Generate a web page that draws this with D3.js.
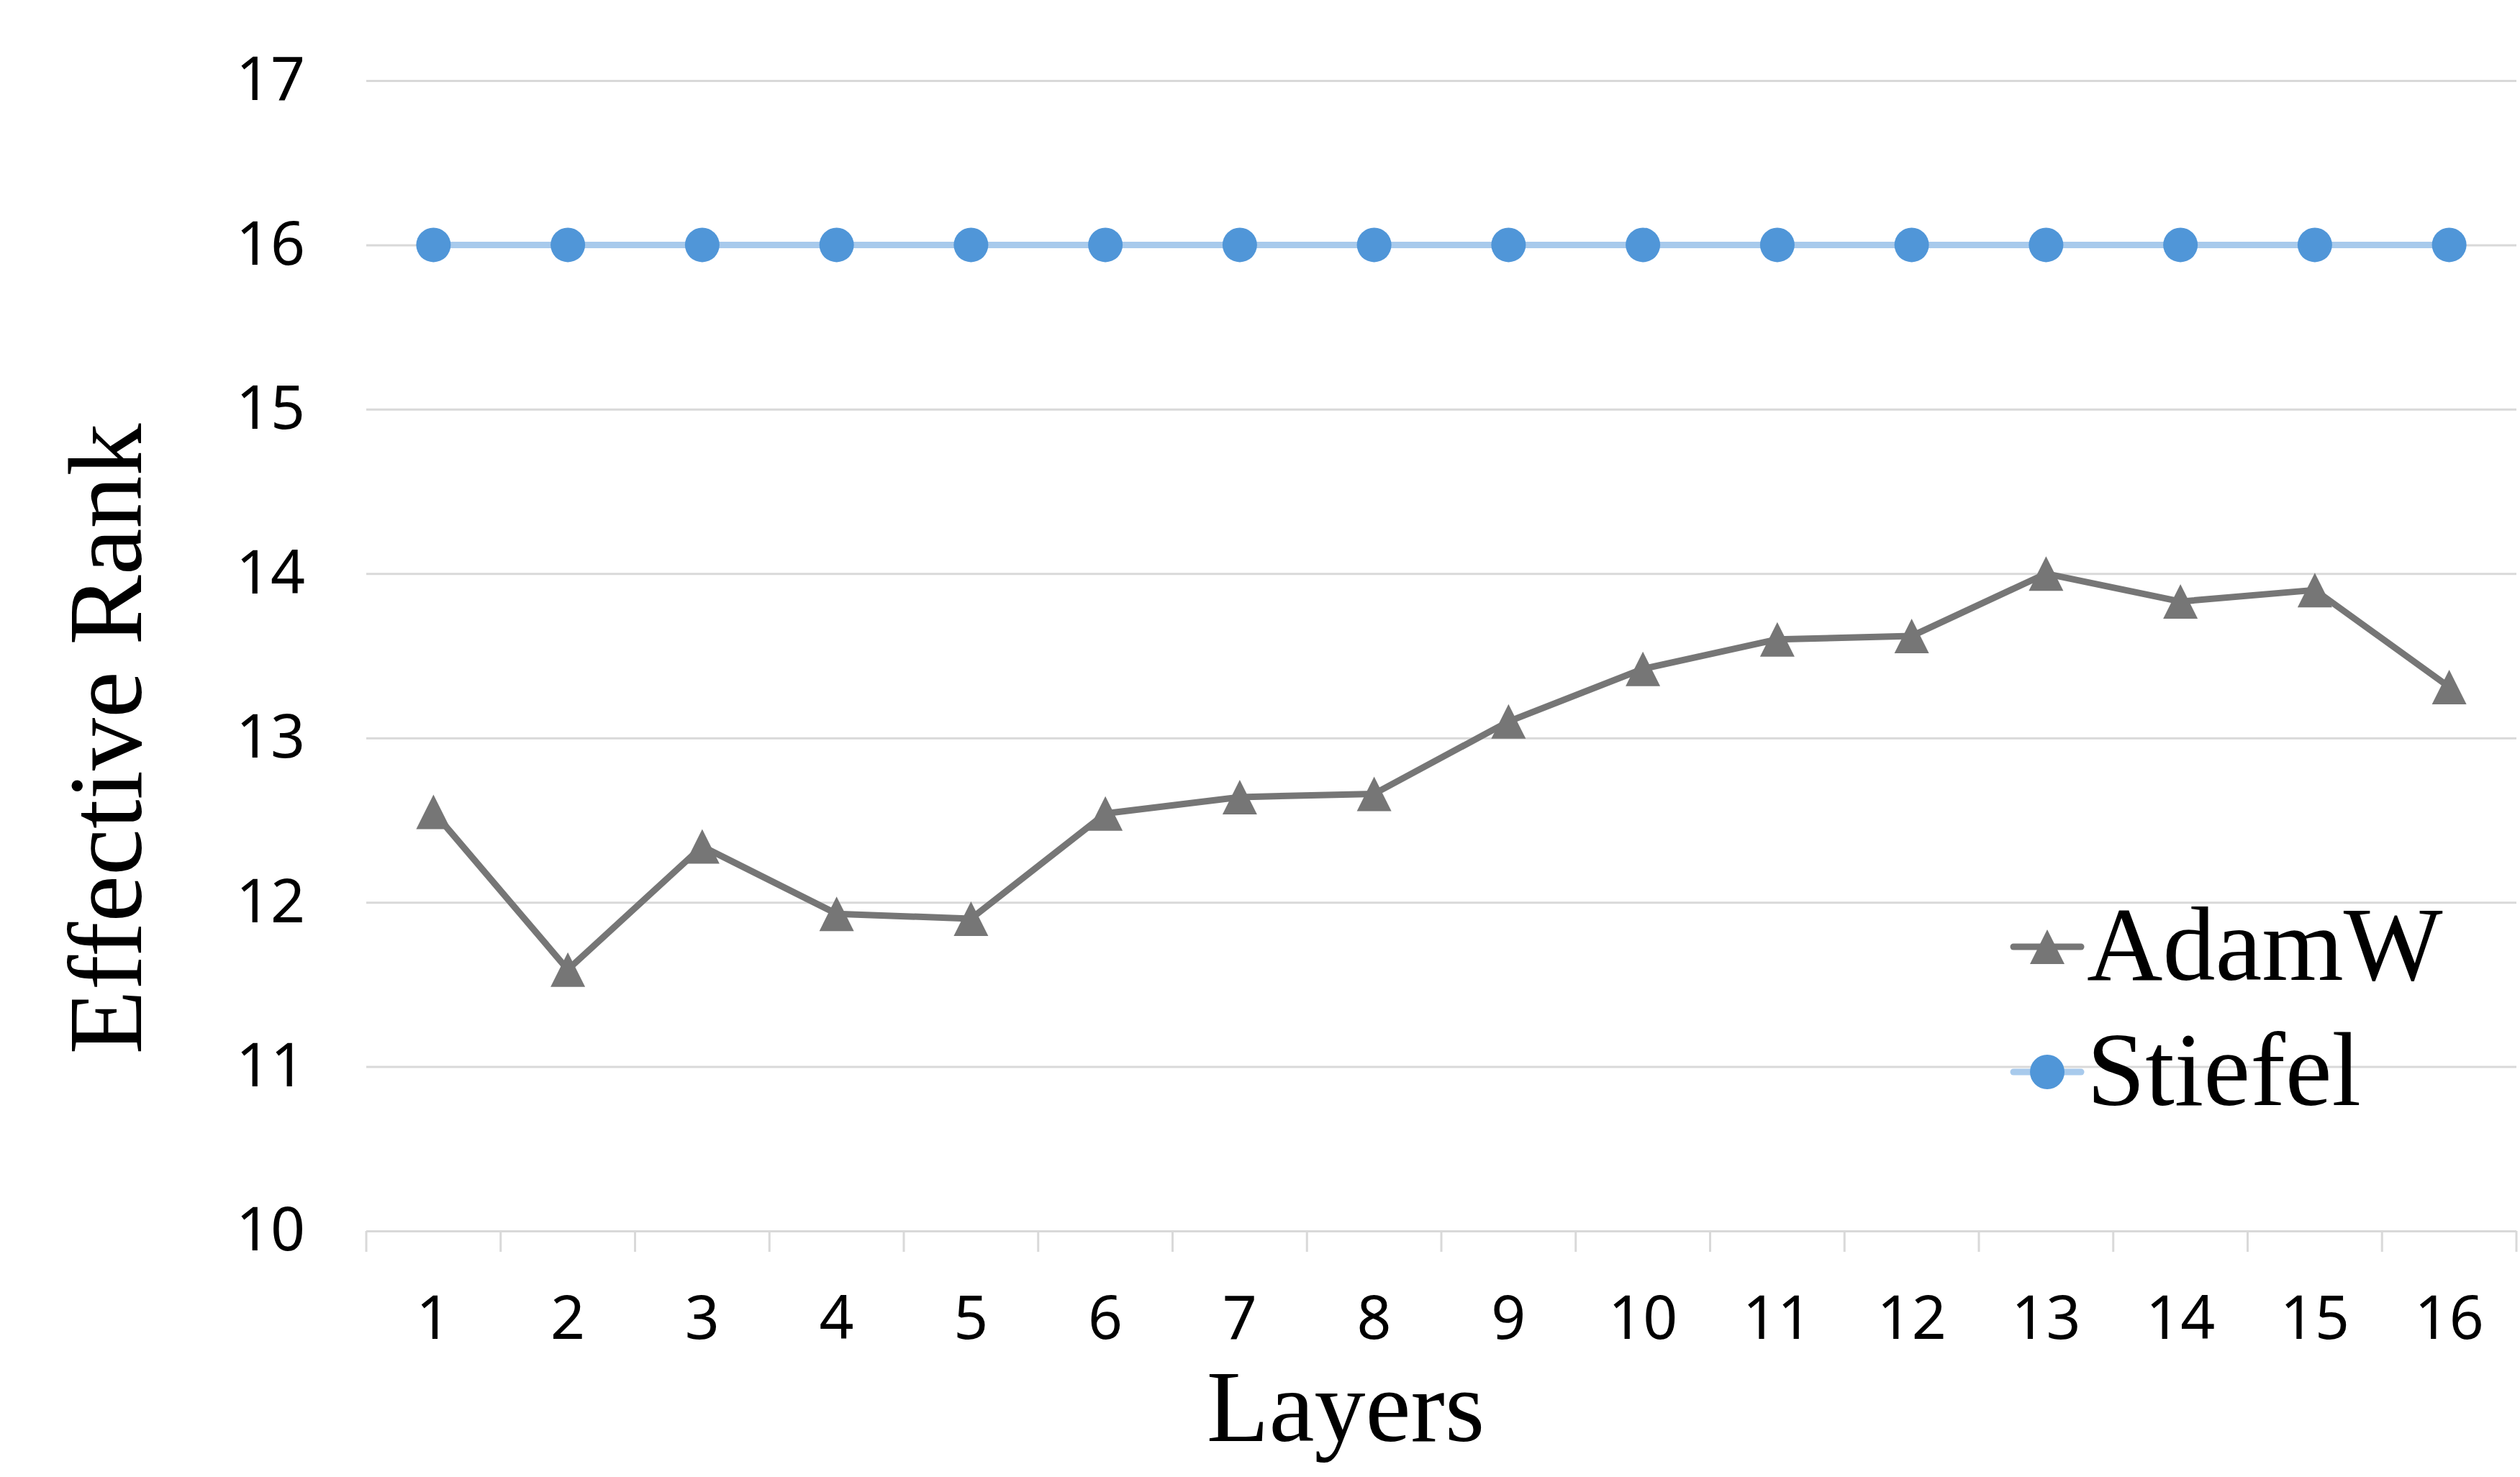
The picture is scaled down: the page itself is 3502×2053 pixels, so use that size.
<!DOCTYPE html>
<html>
<head>
<meta charset="utf-8">
<script src="https://cdn.jsdelivr.net/npm/d3@7"></script>
<style>
  body { margin: 0; background: #fff; }
  svg { display: block; }
</style>
</head>
<body>
<svg id="chart"></svg>
<script>
var width = 3502;
var height = 2053;

var layers = ["1","2","3","4","5","6","7","8","9","10","11","12","13","14","15","16"];
var adamw = [12.55, 11.59, 12.34, 11.93, 11.90, 12.54, 12.64, 12.66, 13.10, 13.42, 13.60, 13.62, 14.00, 13.83, 13.90, 13.31];
var stiefel = [16, 16, 16, 16, 16, 16, 16, 16, 16, 16, 16, 16, 16, 16, 16, 16];
var yTicks = [10, 11, 12, 13, 14, 15, 16, 17];

// plot area (note: "top" is reserved on window)
var plotLeft = 509, plotRight = 3497, plotTop = 112, plotBottom = 1711;

var svg = d3.select("#chart")
    .attr("width", width)
    .attr("height", height);

var x = d3.scaleBand()
    .domain(layers)
    .range([plotLeft, plotRight]);

var y = d3.scaleLinear()
    .domain([10, 17])
    .range([plotBottom, plotTop]);

// gridlines + y labels
var yAxis = svg.append("g")
    .attr("transform", "translate(" + plotLeft + ",0)")
    .call(d3.axisLeft(y)
        .tickValues(yTicks)
        .tickSize(-(plotRight - plotLeft))
        .tickPadding(85)
        .tickFormat(d3.format("d")));
yAxis.select(".domain").remove();
yAxis.selectAll(".tick line")
    .attr("stroke", "#d9d9d9")
    .attr("stroke-width", 3);
yAxis.selectAll(".tick text")
    .attr("fill", "#000")
    .style("font-family", "'Noto Sans', 'Liberation Sans', sans-serif")
    .style("font-size", "84px");

// x labels
var xAxis = svg.append("g")
    .attr("transform", "translate(0," + plotBottom + ")")
    .call(d3.axisBottom(x).tickSize(0).tickPadding(90));
xAxis.select(".domain").remove();
xAxis.selectAll(".tick text")
    .attr("fill", "#000")
    .style("font-family", "'Noto Sans', 'Liberation Sans', sans-serif")
    .style("font-size", "84px");

// tick marks between categories
var bounds = layers.map(function(d) { return x(d); }).concat([plotRight]);
svg.append("g").selectAll("line")
    .data(bounds)
    .enter().append("line")
    .attr("x1", function(d) { return d; })
    .attr("x2", function(d) { return d; })
    .attr("y1", plotBottom)
    .attr("y2", plotBottom + 29)
    .attr("stroke", "#d9d9d9")
    .attr("stroke-width", 3);

var cx = function(d, i) { return x(layers[i]) + x.bandwidth() / 2; };

var line = d3.line()
    .x(function(d, i) { return cx(d, i); })
    .y(function(d) { return y(d); });

var triangle = "M0,-24L24,24L-24,24Z";

// Stiefel
svg.append("path")
    .datum(stiefel)
    .attr("d", line)
    .attr("fill", "none")
    .attr("stroke", "#a8caec")
    .attr("stroke-width", 9);
svg.append("g").selectAll("circle")
    .data(stiefel)
    .enter().append("circle")
    .attr("cx", cx)
    .attr("cy", function(d) { return y(d); })
    .attr("r", 24)
    .attr("fill", "#5096d8");

// AdamW
svg.append("path")
    .datum(adamw)
    .attr("d", line)
    .attr("fill", "none")
    .attr("stroke", "#767676")
    .attr("stroke-width", 9)
    .attr("stroke-linejoin", "round");
svg.append("g").selectAll("path")
    .data(adamw)
    .enter().append("path")
    .attr("d", triangle)
    .attr("transform", function(d, i) { return "translate(" + cx(d, i) + "," + y(d) + ")"; })
    .attr("fill", "#767676");

// axis titles
svg.append("text")
    .attr("x", 1870)
    .attr("y", 2003)
    .attr("text-anchor", "middle")
    .style("font-family", "'Liberation Serif', 'Times New Roman', serif")
    .style("font-size", "142px")
    .text("Layers");

svg.append("text")
    .attr("transform", "translate(196,1027) rotate(-90)")
    .attr("text-anchor", "middle")
    .style("font-family", "'Liberation Serif', 'Times New Roman', serif")
    .style("font-size", "146px")
    .text("Effective Rank");

// legend
var legend = [
    {name: "AdamW", color: "#767676", marker: "tri", y: 1316},
    {name: "Stiefel", color: "#a8caec", marker: "circle", y: 1490}
];
var lg = svg.append("g").selectAll("g")
    .data(legend)
    .enter().append("g")
    .attr("transform", function(d) { return "translate(2845," + d.y + ")"; });
lg.append("line")
    .attr("x1", -47).attr("x2", 47)
    .attr("stroke", function(d) { return d.color; })
    .attr("stroke-width", 9)
    .attr("stroke-linecap", "round");
lg.each(function(d) {
    var g = d3.select(this);
    if (d.marker == "tri") {
        g.append("path").attr("d", triangle).attr("fill", "#767676");
    } else {
        g.append("circle").attr("r", 24).attr("fill", "#5096d8");
    }
});
lg.append("text")
    .attr("x", 55)
    .attr("y", 46)
    .style("font-family", "'Liberation Serif', 'Times New Roman', serif")
    .style("font-size", "146px")
    .text(function(d) { return d.name; });
</script>
</body>
</html>
